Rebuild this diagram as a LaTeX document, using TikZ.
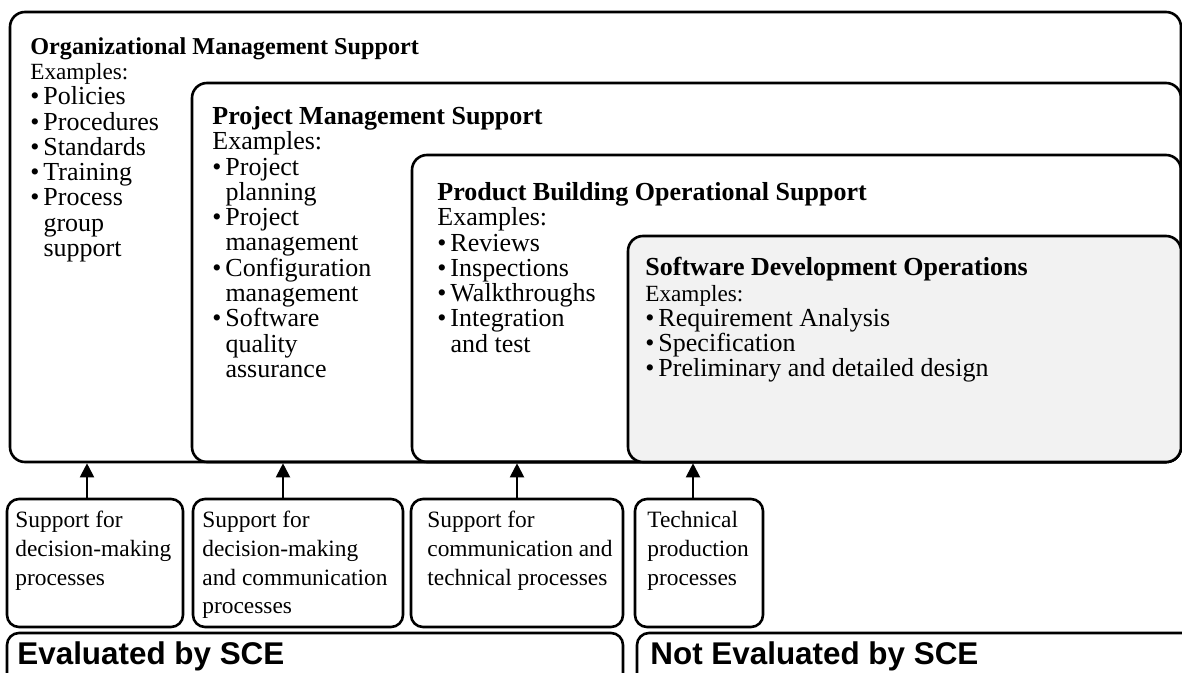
\documentclass[tikz,border=0pt]{standalone}
\usepackage{fontspec}
\setmainfont{Liberation Serif}
\setsansfont{Liberation Sans}
\usetikzlibrary{arrows.meta,fit}

\newcommand{\itm}{\textbullet\hspace{2pt}}
\newcommand{\cnt}{\phantom{\textbullet\hspace{2pt}}}
\newcommand{\exm}{{\fontsize{11.6}{12.65}\selectfont Examples:}}

\tikzset{
	box/.style={draw=black,line width=1.3pt,rounded corners=7.5pt,inner sep=0pt},
	sbox/.style={draw=black,line width=1.3pt,rounded corners=6pt,inner sep=0pt},
	txt/.style={anchor=north west,align=left,inner sep=0pt,font=\fontsize{13}{12.65}\selectfont},
	stxt/.style={anchor=north west,align=left,inner sep=0pt,font=\fontsize{11.7}{14.35}\selectfont},
	big/.style={anchor=base west,inner sep=0pt,font=\sffamily\bfseries\fontsize{15.7}{18}\selectfont},
	up/.style={-{Triangle[width=7pt,length=7pt]},line width=1pt}
}

\begin{document}
\begin{tikzpicture}[x=0.5pt,y=-0.5pt]
	\clip (0,0) rectangle (1182,673);
	
	\node[box,fit={(10,12) (1181,462)}] (org) {};
	\node[box,fit={(192,83) (1181,462)}] (proj) {};
	\node[box,fit={(412,155) (1181,462)}] (prod) {};
	\node[box,fill=black!5,fit={(628,236) (1181,462)}] (soft) {};
	
	\node[txt] (orgtxt) at (30,37) {{\fontsize{12.1}{12.65}\selectfont\bfseries Organizational Management Support}\\\exm\\\itm Policies\\\itm Procedures\\\itm Standards\\\itm Training\\\itm Process\\\cnt group\\\cnt support};
	\node[txt] (projtxt) at (212,106) {\textbf{Project Management Support}\\Examples:\\\itm Project\\\cnt planning\\\itm Project\\\cnt management\\\itm Configuration\\\cnt management\\\itm Software\\\cnt quality\\\cnt assurance};
	\node[txt] (prodtxt) at (437,182) {\textbf{Product Building Operational Support}\\Examples:\\\itm Reviews\\\itm Inspections\\\itm Walkthroughs\\\itm Integration\\\cnt and test};
	\node[txt] (softtxt) at (645,257) {\textbf{Software Development Operations}\\\exm\\\itm Requirement Analysis\\\itm Specification\\\itm Preliminary and detailed design};
	
	\node[sbox,fit={(7,499) (183,627)}] (dm) {};
	\node[sbox,fit={(193,499) (403,627)}] (dmc) {};
	\node[sbox,fit={(411,499) (623,627)}] (ct) {};
	\node[sbox,fit={(635,499) (763,627)}] (tp) {};
	
	\node[stxt] (dmtxt) at (15,511) {Support for\\decision-making\\processes};
	\node[stxt] (dmctxt) at (202,511) {Support for\\decision-making\\and communication\\processes};
	\node[stxt] (cttxt) at (427,511) {Support for\\communication and\\technical processes};
	\node[stxt] (tptxt) at (647,511) {Technical\\production\\processes};
	
	\draw[up] ([xshift=-4pt]dm.north) -- ([xshift=-4pt]dm.north |- org.south);
	\draw[up] ([xshift=-7.5pt]dmc.north) -- ([xshift=-7.5pt]dmc.north |- org.south);
	\draw[up] (ct.north) -- (ct.north |- org.south);
	\draw[up] ([xshift=-3pt]tp.north) -- ([xshift=-3pt]tp.north |- org.south);
	
	\node[sbox,fit={(7,633) (623,720)}] (ev) {};
	\node[sbox,fit={(637,633) (1200,720)}] (nev) {};
	\node[big] (evtxt) at (17,664) {Evaluated by SCE};
	\node[big] (nevtxt) at (650,664) {Not Evaluated by SCE};
	
\end{tikzpicture}
\end{document}
